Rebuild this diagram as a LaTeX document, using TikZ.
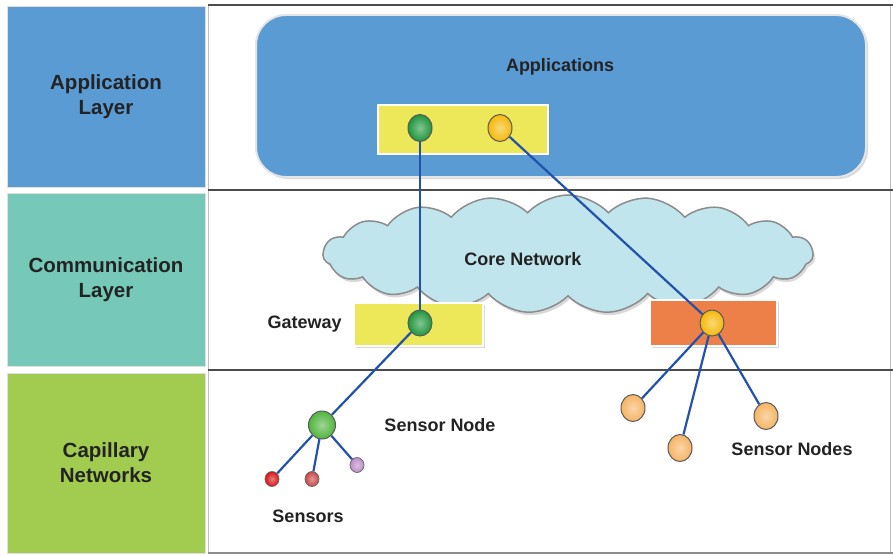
\documentclass[tikz,border=0pt]{standalone}
\usepackage{fontspec}
\setmainfont{Liberation Sans}
\definecolor{applblue}{RGB}{91,155,212}
\definecolor{commteal}{RGB}{118,200,184}
\definecolor{capgreen}{RGB}{162,204,80}
\definecolor{portyellow}{RGB}{236,232,90}
\definecolor{portorange}{RGB}{237,128,72}
\definecolor{cloudblue}{RGB}{192,229,236}
\definecolor{linkblue}{RGB}{34,82,172}
\definecolor{txtgray}{RGB}{35,35,35}
\definecolor{nodegreen}{RGB}{30,150,60}
\definecolor{nodeyellow}{RGB}{245,185,10}
\definecolor{nodepeach}{RGB}{245,180,100}
\definecolor{snodegreen}{RGB}{80,180,60}
\definecolor{sensred}{RGB}{215,20,20}
\definecolor{sensrose}{RGB}{200,70,70}
\definecolor{senslilac}{RGB}{190,140,200}
\usetikzlibrary{shapes.geometric, shapes.symbols, shadows, positioning}

\tikzset{
  layerbox/.style={rectangle, fill=#1, draw=black!12, line width=1pt, minimum width=198pt,
    align=center, text=txtgray, font=\bfseries\fontsize{20.5}{25}\selectfont},
  portbox/.style={rectangle, fill=#1, draw=white, line width=1.5pt,
    drop shadow={opacity=0.3, shadow xshift=1.5pt, shadow yshift=-1.5pt}},
  ball/.style={ellipse, draw=black!65, line width=1pt, inner color=#1!55!white, outer color=#1,
    minimum width=24pt, minimum height=27pt, inner sep=0pt},
  sensor/.style={ellipse, draw=black!60, line width=0.7pt, inner color=#1!55!white, outer color=#1,
    minimum width=14pt, minimum height=15pt, inner sep=0pt},
  link/.style={linkblue, line width=2.2pt},
  lbl/.style={text=txtgray, font=\bfseries\fontsize{18}{20}\selectfont}
}

\begin{document}
\begin{tikzpicture}[x=1pt, y=-1pt]
  \useasboundingbox (0,0) rectangle (893,556);

  % layer labels on the left
  \node[layerbox=applblue, minimum height=180pt] (applayer) at (106,97) {Application\\Layer};
  \node[layerbox=commteal, minimum height=173pt] (commlayer) at (106,279.5) {Communication\\Layer};
  \node[layerbox=capgreen, minimum height=180pt] (caplayer) at (106,463) {Capillary\\Networks};

  % frame of the right part
  \draw[black!25, line width=1pt] (208,5) rectangle (890,553);
  \draw[black!70, line width=1.2pt] (208,5) -- (893,5);
  \draw[black!70, line width=1.2pt] (208,190) -- (893,190);
  \draw[black!70, line width=1.2pt] (208,370) -- (893,370);
  \draw[black!45, line width=1.2pt] (208,553) -- (893,553);

  % application layer
  \node[rectangle, rounded corners=30pt, fill=applblue, draw=black!10, line width=2pt,
    minimum width=610pt, minimum height=162pt,
    drop shadow={opacity=0.3, shadow xshift=2pt, shadow yshift=-2pt}] (apps) at (561,96) {};
  \node[lbl] (appstxt) at (560,67) {Applications};
  \node[portbox=portyellow, minimum width=170pt, minimum height=49pt] (appport) at (463,129.5) {};
  \node[ball=nodegreen] (appg) at (420,128) {};
  \node[ball=nodeyellow] (appy) at (500,128) {};

  % communication layer
  \node[cloud, cloud puffs=19, cloud puff arc=95, aspect=4, fill=cloudblue, draw=black!45,
    line width=1.5pt, minimum width=490pt, minimum height=118pt,
    drop shadow={opacity=0.3, shadow xshift=2pt, shadow yshift=-3pt}] (core) at (568,254) {};
  \node[lbl] (coretxt) at (523,259) {Core Network};
  \node[portbox=portyellow, minimum width=129pt, minimum height=43pt] (gwbox) at (418.5,324.5) {};
  \node[lbl, left=8pt of gwbox] (gwtxt) {Gateway};
  \node[portbox=portorange, minimum width=127pt, minimum height=46pt] (orbox) at (713.5,323) {};
  \node[ball=nodegreen, minimum height=26pt] (gwg) at (420,323) {};
  \node[ball=nodeyellow, minimum height=26pt] (gwy) at (712,323) {};

  % capillary networks
  \node[ball=snodegreen, minimum width=27pt, minimum height=28pt] (sn) at (322,425) {};
  \node[lbl] (sntxt) at (440,425) {Sensor Node};
  \node[sensor=sensred] (s1) at (272,479) {};
  \node[sensor=sensrose] (s2) at (312,479) {};
  \node[sensor=senslilac] (s3) at (357,465) {};
  \node[lbl] (stxt) at (308,516) {Sensors};
  \node[ball=nodepeach] (n1) at (633,408) {};
  \node[ball=nodepeach] (n2) at (680,448) {};
  \node[ball=nodepeach] (n3) at (766,416) {};
  \node[lbl] (ntxt) at (792,449) {Sensor Nodes};

  % links
  \draw[link] (appg) -- (gwg);
  \draw[link] (appy) -- (gwy);
  \draw[link] (gwg) -- (sn);
  \foreach \s in {s1,s2,s3} \draw[link] (sn) -- (\s);
  \foreach \n in {n1,n2,n3} \draw[link] (gwy) -- (\n);
\end{tikzpicture}
\end{document}
